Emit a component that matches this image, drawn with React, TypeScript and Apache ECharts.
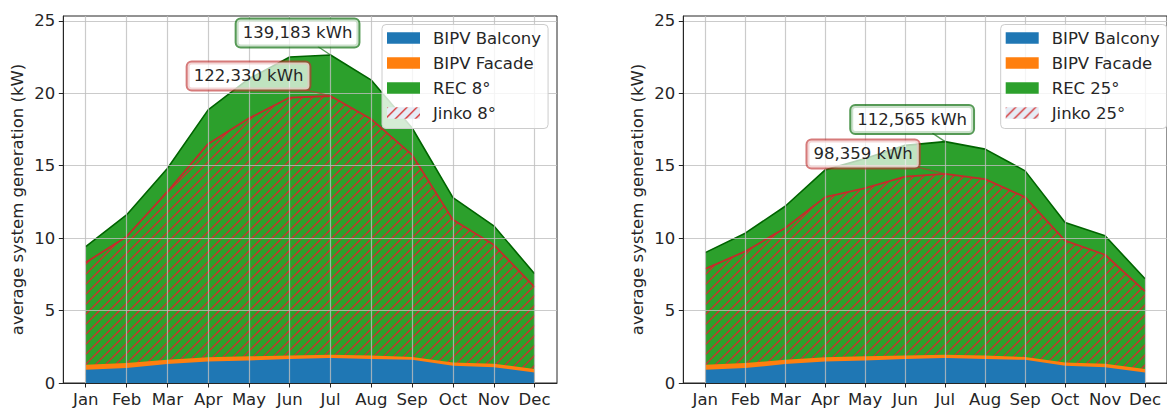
import React, { useEffect, useRef } from 'react';
import * as echarts from 'echarts';

// ---------- data ----------
const months = ['Jan', 'Feb', 'Mar', 'Apr', 'May', 'Jun', 'Jul', 'Aug', 'Sep', 'Oct', 'Nov', 'Dec'];
const yTicks = [0, 5, 10, 15, 20, 25];

// shared BIPV contributions (kW)
const bipvBalcony = [0.92, 1.03, 1.31, 1.49, 1.56, 1.65, 1.72, 1.65, 1.6, 1.19, 1.08, 0.73];
const bipvFacade = [0.34, 0.35, 0.29, 0.28, 0.28, 0.25, 0.23, 0.25, 0.19, 0.23, 0.25, 0.24];

// roof arrays, 8° tilt (kW, on top of BIPV)
const rec8 = [8.16, 10.22, 13.2, 17.08, 19.16, 20.6, 20.69, 19.0, 15.81, 11.38, 9.52, 6.57];
const jinko8 = [7.06, 8.72, 11.6, 14.73, 16.43, 17.8, 17.86, 16.3, 13.95, 9.84, 8.21, 5.65];

// roof arrays, 25° tilt
const rec25 = [7.74, 8.96, 10.6, 12.94, 13.66, 14.5, 14.71, 14.24, 12.85, 9.66, 8.83, 6.22];
const jinko25 = [6.62, 7.7, 9.1, 11.06, 11.61, 12.35, 12.48, 12.17, 11.04, 8.4, 7.52, 5.35];

const recNames = ['REC 8°', 'REC 25°'];
const jinkoNames = ['Jinko 8°', 'Jinko 25°'];
const recTotals = ['139,183 kWh', '112,565 kWh'];
const jinkoTotals = ['122,330 kWh', '98,359 kWh'];

// ---------- style / layout ----------
const FONT = 'DejaVu Sans';
const FS = 16.5;
const TXT = '#262626';
const BLUE = '#1f77b4';
const ORANGE = '#ff7f0e';
const GREEN = '#2ca02c';
const DKGREEN = '#006400';
const RED = '#c62a2a';
const HATCH = '#d42c2c';
const GRID_LEFT = [63.3, 683.3];
const GRID_TOP = 16;
const GRID_W = 493.7;
const GRID_H = 367.3;
const LEGEND_LEFT = [382, 1000.7];
const Y_MAX = 25.33;

function hatch(bg: string | null, color: string) {
  const S = 20;
  const c = document.createElement('canvas');
  c.width = S;
  c.height = S;
  const ctx = c.getContext('2d')!;
  if (bg) {
    ctx.fillStyle = bg;
    ctx.fillRect(0, 0, S, S);
  }
  ctx.strokeStyle = color;
  ctx.lineWidth = 1.3;
  ctx.beginPath();
  for (let o = -S; o <= S; o += 10) {
    ctx.moveTo(o - 2, S + 2);
    ctx.lineTo(o + S + 2, -2);
  }
  ctx.stroke();
  return c;
}

function measure(text: string) {
  const c = document.createElement('canvas');
  const ctx = c.getContext('2d')!;
  ctx.font = `${FS}px "${FONT}"`;
  return ctx.measureText(text).width;
}

export default function App() {
  const ref = useRef<HTMLDivElement>(null);

  useEffect(() => {
    if (!ref.current) return;
    const chart = echarts.init(ref.current, null, { renderer: 'svg' });

    const base = months.map((_, k) => bipvBalcony[k] + bipvFacade[k]);
    const recs = [rec8, rec25];
    const jinkos = [jinko8, jinko25];
    const recTop = recs.map((r) => r.map((v, k) => base[k] + v));
    const jinkoTop = jinkos.map((r) => r.map((v, k) => base[k] + v));

    const areaPattern = { image: hatch(null, HATCH), repeat: 'repeat', imageWidth: 20, imageHeight: 20 };
    const legendPattern = { image: hatch('#e6ecf6', HATCH), repeat: 'repeat', imageWidth: 20, imageHeight: 20 };

    const idx = months.map((_, k) => k);
    const pts = (arr: number[]) => arr.map((v, k) => [k, v]);

    const grids = [0, 1].map((i) => ({
      left: GRID_LEFT[i],
      top: GRID_TOP,
      width: GRID_W,
      height: GRID_H,
      show: true,
      borderColor: TXT,
      borderWidth: 1,
      backgroundColor: 'transparent',
    }));

    const splitLine = { show: true, lineStyle: { color: 'rgba(190,190,190,0.8)', width: 1.2 } };

    const xAxes = [0, 1].map((i) => ({
      type: 'value',
      gridIndex: i,
      min: -0.55,
      max: 11.55,
      z: 5,
      axisLine: { show: true, onZero: false, lineStyle: { color: TXT, width: 1 } },
      axisTick: { show: true, length: 4.5, lineStyle: { color: TXT, width: 1 }, customValues: idx },
      axisLabel: {
        customValues: idx,
        formatter: (v: number) => months[Math.round(v)] ?? '',
        fontSize: FS,
        fontFamily: FONT,
        color: TXT,
        margin: 8,
      },
      splitLine,
    }));

    const yAxes = [0, 1].map((i) => ({
      type: 'value',
      gridIndex: i,
      min: 0,
      max: Y_MAX,
      z: 5,
      name: 'average system generation (kW)',
      nameLocation: 'middle',
      nameGap: 37,
      nameTextStyle: { fontSize: FS, fontFamily: FONT, color: TXT },
      axisLine: { show: true, onZero: false, lineStyle: { color: TXT, width: 1 } },
      axisTick: { show: true, length: 4.5, lineStyle: { color: TXT, width: 1 }, customValues: yTicks },
      axisLabel: { customValues: yTicks, fontSize: FS, fontFamily: FONT, color: TXT, margin: 8 },
      splitLine,
    }));

    const series: any[] = [];
    [0, 1].forEach((i) => {
      const common = { type: 'line', xAxisIndex: i, yAxisIndex: i, symbol: 'none', silent: true, animation: false, z: 2 };
      series.push({
        ...common,
        name: recNames[i],
        data: pts(recTop[i]),
        lineStyle: { color: DKGREEN, width: 1.6 },
        itemStyle: { color: GREEN },
        areaStyle: { color: GREEN, opacity: 1 },
      });
      series.push({
        ...common,
        name: jinkoNames[i],
        data: pts(jinkoTop[i]),
        lineStyle: { color: RED, width: 1.8 },
        itemStyle: { color: RED },
        areaStyle: { color: areaPattern, opacity: 1 },
      });
      series.push({
        ...common,
        name: 'BIPV Facade',
        data: pts(base),
        lineStyle: { width: 0, opacity: 0 },
        itemStyle: { color: ORANGE },
        areaStyle: { color: ORANGE, opacity: 1 },
      });
      series.push({
        ...common,
        name: 'BIPV Balcony',
        data: pts(bipvBalcony),
        lineStyle: { width: 0, opacity: 0 },
        itemStyle: { color: BLUE },
        areaStyle: { color: BLUE, opacity: 1 },
      });
    });

    const legends = [0, 1].map((i) => ({
      orient: 'vertical',
      left: LEGEND_LEFT[i],
      top: 24.5,
      icon: 'rect',
      itemWidth: 33,
      itemHeight: 11.5,
      itemGap: 8,
      padding: [5, 7, 7, 5],
      backgroundColor: 'rgba(255,255,255,0.8)',
      borderColor: '#cccccc',
      borderWidth: 1,
      borderRadius: 4,
      selectedMode: false,
      z: 20,
      itemStyle: { borderWidth: 0 },
      textStyle: { fontSize: FS, fontFamily: FONT, color: TXT, padding: [0, 0, 0, 8] },
      data: [
        { name: 'BIPV Balcony', itemStyle: { color: BLUE, borderWidth: 0 } },
        { name: 'BIPV Facade', itemStyle: { color: ORANGE, borderWidth: 0 } },
        { name: recNames[i], itemStyle: { color: GREEN, borderWidth: 0 } },
        { name: jinkoNames[i], itemStyle: { color: legendPattern, borderWidth: 0 } },
      ],
    }));

    chart.setOption({
      animation: false,
      textStyle: { fontFamily: FONT },
      grid: grids,
      xAxis: xAxes,
      yAxis: yAxes,
      legend: legends,
      series,
    });

    // annotations (offset boxes pointing to the peak month)
    const graphics: any[] = [];
    const argmax = (a: number[]) => a.reduce((b, v, k) => (v > a[b] ? k : b), 0);
    [0, 1].forEach((i) => {
      const items = [
        { top: jinkoTop[i], label: jinkoTotals[i], dx: -82, dy: -20, border: 'rgba(192,50,50,0.65)' },
        { top: recTop[i], label: recTotals[i], dx: -33, dy: -22, border: 'rgba(30,120,30,0.75)' },
      ];
      items.forEach((it) => {
        const k = argmax(it.top);
        const p = chart.convertToPixel({ gridIndex: i } as any, [k, it.top[k]]) as number[];
        const cx = p[0] + it.dx;
        const cy = p[1] + it.dy;
        const hw = measure(it.label) / 2 + 6;
        const hh = 13.5;
        const t = Math.min(hw / Math.abs(it.dx), hh / Math.abs(it.dy));
        graphics.push({
          type: 'line',
          z: 30,
          silent: true,
          shape: { x1: cx - it.dx * t, y1: cy - it.dy * t, x2: p[0], y2: p[1] },
          style: { stroke: it.border, lineWidth: 1.3 },
        });
        graphics.push({
          type: 'text',
          z: 31,
          silent: true,
          x: cx,
          y: cy,
          style: {
            text: it.label,
            font: `${FS}px "${FONT}"`,
            fill: TXT,
            align: 'center',
            verticalAlign: 'middle',
            lineHeight: 17,
            backgroundColor: 'rgba(255,255,255,0.7)',
            borderColor: it.border,
            borderWidth: 2,
            borderRadius: 4,
            padding: [5, 6],
          },
        });
      });
    });
    chart.setOption({ graphic: graphics });

    return () => chart.dispose();
  }, []);

  return (
    <div
      ref={ref}
      style={{ position: 'fixed', left: 0, top: 0, width: 1167, height: 408, background: '#fff' }}
    />
  );
}
